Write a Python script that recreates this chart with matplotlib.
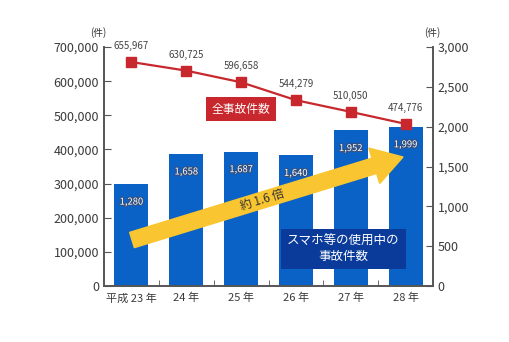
import numpy as np
import matplotlib
matplotlib.use("Agg")
import matplotlib.pyplot as plt
import matplotlib.patheffects as pe
from matplotlib.patches import FancyArrow

plt.rcParams['font.family'] = ['Noto Sans CJK JP', 'DejaVu Sans']

# data
years = ["平成 23 年", "24 年", "25 年", "26 年", "27 年", "28 年"]
all_accidents = [655967, 630725, 596658, 544279, 510050, 474776]
phone_accidents = [1280, 1658, 1687, 1640, 1952, 1999]

blue = '#0a62c6'
red = '#c8282d'
gray = '#555555'

fig = plt.figure(figsize=(5.1, 3.42), dpi=100)
ax = fig.add_axes([104/510, 56/342, 329/510, 239/342])
ax2 = ax.twinx()

x = np.arange(len(years))

# bars on right axis
ax2.bar(x, phone_accidents, width=0.62, color=blue, zorder=2)
for xi, v in zip(x, phone_accidents):
    ax2.annotate(f"{v:,}", (xi, v), xytext=(0, -13), textcoords='offset points',
                 ha='center', va='center', fontsize=6.8, color='white',
                 path_effects=[pe.withStroke(linewidth=1.6, foreground='#34507e')])
ax2.set_ylim(0, 3000)
ax2.set_yticks(np.arange(0, 3001, 500))
ax2.set_yticklabels([f"{v:,}" for v in range(0, 3001, 500)])

# line on left axis, drawn above bars
ax.set_zorder(ax2.get_zorder() + 1)
ax.patch.set_visible(False)
ax.plot(x, all_accidents, color=red, marker='s', markersize=7, lw=1.6, zorder=3)
for xi, v in zip(x, all_accidents):
    ax.annotate(f"{v:,}", (xi, v), xytext=(0, 8), textcoords='offset points',
                ha='center', va='bottom', fontsize=7, color='#444444')
ax.set_ylim(0, 700000)
ax.set_yticks(np.arange(0, 700001, 100000))
ax.set_yticklabels([f"{v:,}" for v in range(0, 700001, 100000)])
ax.set_xlim(-0.5, len(years) - 0.5)
ax.set_xticks(x)
ax.set_xticklabels(years)
ax.set_xticks(np.arange(0.5, len(years) - 0.5, 1), minor=True)

for a in (ax, ax2):
    a.spines['top'].set_visible(False)
    for s in ('left', 'right', 'bottom'):
        a.spines[s].set_color(gray)
        a.spines[s].set_linewidth(1.2)
    a.tick_params(axis='y', direction='in', length=5, width=0.8, colors=gray,
                  labelcolor='#3a3a3a', labelsize=9)
ax.tick_params(axis='x', which='major', length=0, labelsize=8, labelcolor='#3a3a3a', pad=5)
ax.tick_params(axis='x', which='minor', direction='in', length=4, color=gray)

ax.text(-0.018, 1.06, "(件)", transform=ax.transAxes, fontsize=7, color='#333333',
        ha='center', va='center')
ax.text(0.997, 1.06, "(件)", transform=ax.transAxes, fontsize=7, color='#333333',
        ha='center', va='center')

# yellow arrow, in inches so it keeps its shape
arr = FancyArrow(1.32, 1.02, 2.71, 0.83, width=0.16, head_width=0.37, head_length=0.30,
                 length_includes_head=True, color='#f9c530', transform=fig.dpi_scale_trans,
                 zorder=5)
ax.add_patch(arr)
ax.text(2.62, 1.42, "約 1.6 倍", transform=fig.dpi_scale_trans, rotation=17,
        ha='center', va='center', fontsize=8.5, color='#333333', zorder=6)

# labels
ax.text(0.416, 0.74, "全事故件数", transform=ax.transAxes, ha='center', va='center',
        fontsize=8.5, color='white', zorder=6,
        bbox=dict(boxstyle='square,pad=0.45', fc=red, ec='none'))
ax.text(0.727, 0.155, "スマホ等の使用中の\n事故件数", transform=ax.transAxes, ha='center', va='center',
        fontsize=9, color='white', linespacing=1.15, zorder=6,
        bbox=dict(boxstyle='square,pad=0.5', fc='#0a3a9a', ec='none'))

fig.savefig("out.png", dpi=100)
